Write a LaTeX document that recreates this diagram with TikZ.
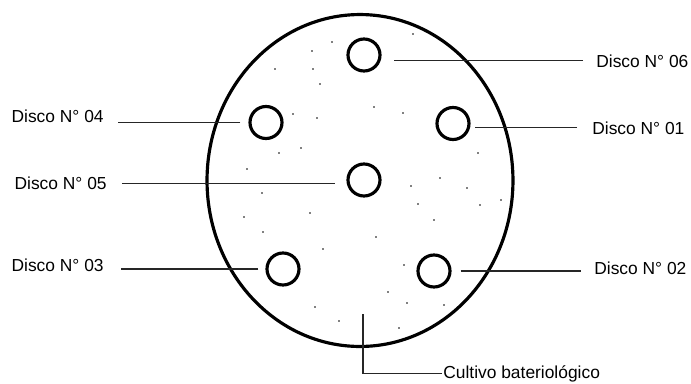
\documentclass[tikz,border=0pt]{standalone}
\usepackage{fontspec}
\setmainfont{Liberation Sans}
\usetikzlibrary{shapes.geometric}

\tikzset{
  plate/.style={ellipse,draw,line width=1.8pt,minimum width=6.12cm,minimum height=6.64cm,inner sep=0pt},
  disc/.style={circle,draw,line width=1.8pt,minimum size=0.64cm,inner sep=0pt},
  lbl/.style={inner sep=0pt,font=\fontsize{9.9}{12}\selectfont},
  leader/.style={line width=0.6pt,black!85},
}

\begin{document}
\begin{tikzpicture}[x=0.02cm,y=-0.02cm]
  \useasboundingbox (0,0) rectangle (691,383);
  % culture plate and the six discs
  \node[plate] (plate) at (360,180.5) {};
  \node[disc] (d1) at (453,123.5) {};
  \node[disc] (d2) at (434,271) {};
  \node[disc] (d3) at (283,269) {};
  \node[disc] (d4) at (266,122.5) {};
  \node[disc] (d5) at (364,180) {};
  \node[disc] (d6) at (364,55) {};
  % specks of the culture
  \foreach \xx/\yy in {413/34,332/42,312/51,275/69,313/69,320/84,374/107,403/113,293/114,317/118,
      301/148,279/153,247/169,478/153,440/178,411/186,467/188,262/193,501/200,480/205,418/204,
      244/217,310/213,434/220,263/232,376/237,323/249,404/265,388/292,407/303,444/305,315/307,
      339/321,399/328}
    \fill[black] (\xx,\yy) circle[radius=0.45pt];
  % labels
  \node[lbl,anchor=base west] (l6) at (596,67) {Disco N° 06};
  \node[lbl,anchor=base west] (l1) at (592,134) {Disco N° 01};
  \node[lbl,anchor=base west] (l2) at (594,274.3) {Disco N° 02};
  \node[lbl,anchor=base east] (l4) at (104,122) {Disco N° 04};
  \node[lbl,anchor=base east] (l5) at (107,189.5) {Disco N° 05};
  \node[lbl,anchor=base east] (l3) at (104,271.7) {Disco N° 03};
  \node[lbl,anchor=base west] (cult) at (443,378.3) {Cultivo bateriológico};
  \coordinate (pin) at (363,314);
  % leader lines
  \draw[leader,shorten <=0.26cm,shorten >=0.24cm] (l6.west) -- (l6.west -| d6.east);
  \draw[leader,shorten <=0.30cm,shorten >=0.08cm] (l1.west) -- (l1.west -| d1.east);
  \draw[leader,shorten <=0.18cm,shorten >=0.26cm] (d2.east) -- (d2.east -| l2.west);
  \draw[leader,shorten <=0.16cm,shorten >=0.28cm] (d4.west) -- (d4.west -| l4.east);
  \draw[leader,shorten <=0.30cm,shorten >=0.22cm] (l5.east) -- (l5.east -| d5.west);
  \draw[leader,shorten <=0.14cm,shorten >=0.34cm] (d3.west) -- (d3.west -| l3.east);
  \draw[leader,shorten <=0.02cm] (cult.west) -| (pin);
\end{tikzpicture}
\end{document}
